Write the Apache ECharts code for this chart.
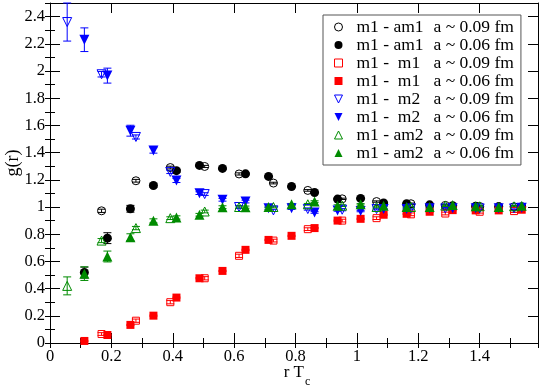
<!DOCTYPE html>
<html>
<head>
<meta charset="utf-8">
<script src="https://cdn.jsdelivr.net/npm/echarts@6/dist/echarts.min.js"></script>
<style>
  html, body { margin: 0; padding: 0; background: #fff; }
  #chart { width: 540px; height: 388px; }
</style>
</head>
<body>
<div id="chart"></div>
<script>
const SERIF = 'Liberation Serif'

// r*Tc positions for the two lattice spacings
const rCoarse = [0.056, 0.168, 0.280, 0.392, 0.504, 0.616, 0.728, 0.840, 0.952, 1.064, 1.176, 1.288, 1.400, 1.512]
const rFine = [0.112, 0.187, 0.262, 0.337, 0.412, 0.487, 0.562, 0.637, 0.712, 0.787, 0.862, 0.937, 1.012, 1.087, 1.162, 1.237, 1.312, 1.387, 1.462, 1.537]

// g(r) values and errors, a ~ 0.09 fm (coarse) and a ~ 0.06 fm (fine)
const gAm1_09 = [null, 0.972, 1.193, 1.290, 1.298, 1.243, 1.176, 1.122, 1.060, 1.040, 1.024, 1.012, 1.004, 1.002]
const eAm1_09 = [null, 0.012, 0.010, 0.010, 0.008, 0.008, 0.006, 0.006, 0.005, 0.005, 0.005, 0.005, 0.005, 0.005]
const gAm1_06 = [0.518, 0.771, 0.987, 1.158, 1.267, 1.306, 1.284, 1.244, 1.225, 1.151, 1.107, 1.058, 1.063, 1.029, 1.024, 1.016, 1.010, 1.006, 1.003, 1.002]
const eAm1_06 = [0.040, 0.040, 0.025, 0.012, 0.010, 0.008, 0.008, 0.006, 0.006, 0.005, 0.005, 0.005, 0.004, 0.004, 0.004, 0.004, 0.004, 0.004, 0.004, 0.004]

const gM1_09 = [null, 0.066, 0.164, 0.300, 0.476, 0.641, 0.753, 0.837, 0.900, 0.918, 0.946, 0.952, 0.965, 0.970]
const eM1_09 = [null, 0.010, 0.012, 0.012, 0.012, 0.012, 0.010, 0.010, 0.010, 0.010, 0.010, 0.010, 0.010, 0.010]
const gM1_06 = [0.015, 0.059, 0.133, 0.201, 0.334, 0.476, 0.530, 0.685, 0.758, 0.788, 0.845, 0.900, 0.913, 0.943, 0.950, 0.965, 0.977, 0.975, 0.975, 0.980]
const eM1_06 = [0.004, 0.004, 0.004, 0.004, 0.004, 0.004, 0.004, 0.004, 0.004, 0.004, 0.004, 0.004, 0.004, 0.004, 0.004, 0.004, 0.004, 0.004, 0.004, 0.004]

const gM2_09 = [2.360, 1.976, 1.515, 1.258, 1.095, 1.000, 0.975, 0.985, 0.980, 0.985, 0.990, 0.990, 0.990, 0.990]
const eM2_09 = [0.140, 0.020, 0.015, 0.012, 0.010, 0.010, 0.008, 0.008, 0.008, 0.006, 0.006, 0.006, 0.006, 0.006]
const gM2_06 = [2.230, 1.966, 1.561, 1.416, 1.195, 1.102, 1.053, 1.040, 0.990, 0.990, 0.960, 0.975, 0.970, 0.985, 0.985, 0.990, 0.990, 0.990, 0.990, 0.995]
const eM2_06 = [0.087, 0.055, 0.040, 0.020, 0.015, 0.010, 0.010, 0.010, 0.008, 0.008, 0.006, 0.006, 0.005, 0.005, 0.005, 0.005, 0.005, 0.005, 0.005, 0.005]

const gAm2_09 = [0.420, 0.753, 0.845, 0.918, 0.967, 1.000, 1.000, 1.020, 1.010, 1.000, 1.000, 1.010, 1.005, 1.005]
const eAm2_09 = [0.066, 0.015, 0.012, 0.010, 0.010, 0.008, 0.006, 0.006, 0.006, 0.006, 0.006, 0.006, 0.006, 0.006]
const gAm2_06 = [0.510, 0.636, 0.778, 0.898, 0.923, 0.943, 0.999, 0.999, 1.000, 1.020, 1.040, 1.010, 1.020, 1.010, 1.000, 1.000, 1.014, 1.005, 1.000, 1.010]
const eAm2_06 = [0.050, 0.040, 0.025, 0.015, 0.012, 0.010, 0.010, 0.008, 0.006, 0.006, 0.006, 0.006, 0.005, 0.005, 0.005, 0.005, 0.005, 0.005, 0.005, 0.005]

// legend text pieces
const pairLabels = ['m1 - am1', 'm1 - am1', 'm1 -  m1', 'm1 -  m1', 'm1 -  m2', 'm1 -  m2', 'm1 - am2', 'm1 - am2']
const spacingLabels = ['a ~ 0.09 fm', 'a ~ 0.06 fm', 'a ~ 0.09 fm', 'a ~ 0.06 fm', 'a ~ 0.09 fm', 'a ~ 0.06 fm', 'a ~ 0.09 fm', 'a ~ 0.06 fm']

const pts = (rs, gs, es) => rs.map((r, i) => [r, gs[i], es[i]]).filter(p => p[1] != null)

const DOWN_TRI = 'path://M0,0L10,0L5,10Z'

const sets = [
  {color: '#000000', symbol: 'circle', size: 8, rot: 0, open: true, data: pts(rCoarse, gAm1_09, eAm1_09)},
  {color: '#000000', symbol: 'circle', size: 9, rot: 0, open: false, data: pts(rFine, gAm1_06, eAm1_06)},
  {color: '#ff0000', symbol: 'rect', size: 7, rot: 0, open: true, data: pts(rCoarse, gM1_09, eM1_09)},
  {color: '#ff0000', symbol: 'rect', size: 8, rot: 0, open: false, data: pts(rFine, gM1_06, eM1_06)},
  {color: '#0000ff', symbol: 'triangle', size: 9, rot: 180, open: true, data: pts(rCoarse, gM2_09, eM2_09)},
  {color: '#0000ff', symbol: 'triangle', size: 10, rot: 180, open: false, data: pts(rFine, gM2_06, eM2_06)},
  {color: '#008b00', symbol: 'triangle', size: 9, rot: 0, open: true, data: pts(rCoarse, gAm2_09, eAm2_09)},
  {color: '#008b00', symbol: 'triangle', size: 10, rot: 0, open: false, data: pts(rFine, gAm2_06, eAm2_06)}
]

const names = sets.map((s, i) => 's' + i)

const errorBar = (color) => (params, api) => {
  const x = api.value(0)
  const y = api.value(1)
  const e = api.value(2)
  const lo = api.coord([x, y - e])
  const hi = api.coord([x, y + e])
  const w = 4
  const style = {stroke: color, lineWidth: 1}
  return {
    type: 'group',
    children: [
      {type: 'line', shape: {x1: lo[0], y1: lo[1], x2: hi[0], y2: hi[1]}, style},
      {type: 'line', shape: {x1: lo[0] - w, y1: lo[1], x2: lo[0] + w, y2: lo[1]}, style},
      {type: 'line', shape: {x1: hi[0] - w, y1: hi[1], x2: hi[0] + w, y2: hi[1]}, style}
    ]
  }
}

let series = []
sets.forEach((s, i) => {
  series.push({
    type: 'custom',
    renderItem: errorBar(s.color),
    data: s.data,
    encode: {x: 0, y: 1},
    silent: true
  })
  series.push({
    name: names[i],
    type: 'scatter',
    data: s.data,
    encode: {x: 0, y: 1},
    symbol: s.symbol,
    symbolSize: s.size,
    symbolRotate: s.rot,
    itemStyle: s.open
      ? {color: 'rgba(255,255,255,0)', borderColor: s.color, borderWidth: 1, opacity: 1}
      : {color: s.color, opacity: 1},
    emphasis: {disabled: true}
  })
})

const axisCommon = {
  type: 'value',
  splitLine: {show: false},
  axisLine: {show: true, onZero: false, lineStyle: {color: '#000', width: 1}}
}

const majorX = (pos, labels) => ({
  ...axisCommon,
  position: pos,
  min: 0, max: 1.59, interval: 0.2,
  axisTick: {inside: true, length: 10, lineStyle: {color: '#000'}},
  axisLabel: {show: labels, showMaxLabel: false, margin: 5, color: '#000', fontSize: 16.5, fontFamily: SERIF}
})
const minorX = (pos) => ({
  ...axisCommon,
  position: pos,
  min: 0, max: 1.59, interval: 0.1,
  axisLine: {show: false},
  axisTick: {inside: true, length: 5, lineStyle: {color: '#000'}},
  axisLabel: {show: false}
})
const majorY = (pos, labels) => ({
  ...axisCommon,
  position: pos,
  min: 0, max: 2.5, interval: 0.2,
  axisTick: {inside: true, length: 10, lineStyle: {color: '#000'}},
  axisLabel: {show: labels, showMaxLabel: false, margin: 5, color: '#000', fontSize: 16.5, fontFamily: SERIF}
})
const minorY = (pos) => ({
  ...axisCommon,
  position: pos,
  min: 0, max: 2.5, interval: 0.1,
  axisLine: {show: false},
  axisTick: {inside: true, length: 5, lineStyle: {color: '#000'}},
  axisLabel: {show: false}
})

const legendItem = (n, i) => {
  const s = sets[i]
  const item = {name: n}
  if (s.rot === 180) item.icon = DOWN_TRI
  if (s.open) item.itemStyle = {borderWidth: 1, borderColor: s.color, color: 'rgba(255,255,255,0)'}
  return item
}

const chart = echarts.init(document.getElementById('chart'), null, {renderer: 'canvas'})

const option = {
  animation: false,
  backgroundColor: '#fff',
  textStyle: {fontFamily: SERIF},
  grid: {left: 50, right: 2, top: 3, bottom: 45},
  xAxis: [majorX('bottom', true), majorX('top', false), minorX('bottom'), minorX('top')],
  yAxis: [majorY('left', true), majorY('right', false), minorY('left'), minorY('right')],
  legend: {
    orient: 'vertical',
    left: 323,
    top: 15,
    padding: [3, 7, 3, 11],
    borderColor: '#555',
    borderWidth: 1,
    backgroundColor: '#fff',
    itemWidth: 8,
    itemHeight: 8,
    itemGap: 0,
    selectedMode: false,
    data: names.map(legendItem),
    formatter: (name) => {
      const i = names.indexOf(name)
      return '{p|' + pairLabels[i] + '}{q|' + spacingLabels[i] + '}'
    },
    textStyle: {
      color: '#000',
      fontFamily: SERIF,
      fontSize: 17.5,
      rich: {
        p: {width: 77, padding: [0, 0, 0, 9], fontSize: 17.5, lineHeight: 17.3, fontFamily: SERIF, color: '#000'},
        q: {fontSize: 17.5, lineHeight: 17.3, fontFamily: SERIF, color: '#000'}
      }
    }
  },
  graphic: [
    {
      type: 'text', x: 13, y: 163, rotation: Math.PI / 2,
      style: {text: 'g(r)', fontSize: 18, fontFamily: SERIF, fill: '#000', align: 'center', verticalAlign: 'middle'}
    },
    {
      type: 'text', x: 304, y: 373,
      style: {text: 'r T', fontSize: 17, fontFamily: SERIF, fill: '#000', align: 'right', verticalAlign: 'middle'}
    },
    {
      type: 'text', x: 305, y: 382,
      style: {text: 'c', fontSize: 12, fontFamily: SERIF, fill: '#000', align: 'left', verticalAlign: 'middle'}
    }
  ],
  series: series
}

chart.setOption(option)
</script>
</body>
</html>
